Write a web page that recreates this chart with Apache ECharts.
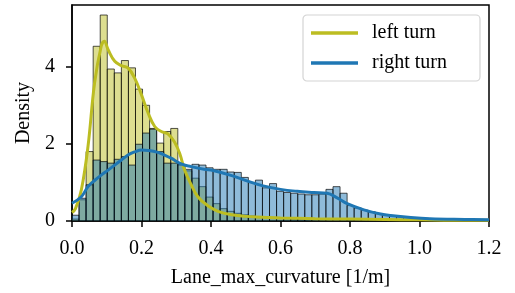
<!DOCTYPE html>
<html>
<head>
<meta charset="utf-8">
<script src="https://cdn.jsdelivr.net/npm/echarts@6/dist/echarts.min.js"></script>
<style>html,body{margin:0;padding:0;background:#fff;}#c{width:515px;height:293px;}</style>
</head>
<body>
<div id="c"></div>
<script>
// ---- data ----
const binStart = 0.0;
const binWidth = 0.0203;
const leftHist = [0.05, 0.55, 1.80, 4.53, 5.34, 3.94, 3.84, 4.16, 3.97, 3.42, 3.00, 2.40, 2.02, 2.32, 2.40, 1.45, 1.30, 1.11, 0.89, 0.62,
  0.45, 0.32, 0.25, 0.20, 0.16, 0.13, 0.11, 0.09, 0.08, 0.07, 0.06, 0.05, 0.05, 0.04, 0.04, 0.04, 0.03, 0.03, 0.03, 0.02,
  0.02, 0.02, 0.02, 0.01, 0.01, 0.01, 0.01];
const rightHist = [0.15, 0.59, 0.94, 1.58, 1.54, 1.50, 1.60, 1.67, 1.45, 1.99, 2.28, 2.38, 1.80, 1.50, 1.50, 1.47, 1.34, 1.47, 1.45, 1.38,
  1.34, 1.34, 1.27, 1.26, 1.13, 1.00, 1.06, 0.86, 0.97, 0.77, 0.74, 0.72, 0.70, 0.68, 0.68, 0.70, 0.82, 0.89, 0.72, 0.40,
  0.34, 0.28, 0.24, 0.19, 0.16, 0.13, 0.11, 0.09, 0.08, 0.07, 0.05, 0.04, 0.03, 0.03, 0.02, 0.02, 0.01, 0.01, 0.01];
const leftKdeX = [0, 0.01, 0.027, 0.046, 0.065, 0.084, 0.093, 0.104, 0.123, 0.142, 0.161, 0.18, 0.2, 0.219, 0.238, 0.257, 0.276, 0.295, 0.31, 0.324, 0.343, 0.362, 0.39, 0.42, 0.46, 0.5, 0.55, 0.6, 0.7, 0.8, 0.9, 1.0, 1.1, 1.2];
const leftKdeY = [0.22, 0.32, 0.81, 1.93, 3.58, 4.53, 4.66, 4.44, 4.14, 4.03, 3.97, 3.71, 3.27, 2.80, 2.45, 2.32, 2.26, 2.05, 1.75, 1.32, 0.94, 0.63, 0.40, 0.25, 0.16, 0.12, 0.10, 0.08, 0.06, 0.05, 0.04, 0.03, 0.02, 0.02];
const rightKdeX = [0, 0.027, 0.046, 0.065, 0.084, 0.104, 0.123, 0.142, 0.161, 0.18, 0.2, 0.22, 0.247, 0.266, 0.285, 0.314, 0.343, 0.38, 0.406, 0.455, 0.503, 0.55, 0.6, 0.648, 0.696, 0.734, 0.763, 0.792, 0.84, 0.888, 0.917, 0.975, 1.03, 1.13, 1.2];
const rightKdeY = [0.46, 0.63, 0.89, 1.05, 1.19, 1.32, 1.45, 1.58, 1.71, 1.79, 1.84, 1.83, 1.78, 1.71, 1.63, 1.48, 1.41, 1.34, 1.31, 1.19, 1.04, 0.91, 0.82, 0.77, 0.74, 0.72, 0.60, 0.45, 0.29, 0.18, 0.14, 0.09, 0.06, 0.04, 0.03];
const seriesNames = ['left turn', 'right turn'];
const yTicks = [0, 2, 4];

// ---- chart ----
const FONT = "'Liberation Serif', 'DejaVu Serif', serif";
const olive = '#bcbd22', blue = '#1f77b4';
function histData(arr) {
  return arr.map((v, i) => [binStart + i * binWidth, binStart + (i + 1) * binWidth, v]);
}
function histSeries(name, arr, fill) {
  return {
    type: 'custom', name: name, clip: true, z: 2,
    encode: { x: [0, 1], y: 2 },
    data: histData(arr),
    renderItem: function (params, api) {
      const p0 = api.coord([api.value(0), api.value(2)]);
      const p1 = api.coord([api.value(1), 0]);
      return {
        type: 'rect',
        shape: { x: p0[0], y: p0[1], width: p1[0] - p0[0], height: p1[1] - p0[1] },
        style: { fill: fill, stroke: 'rgba(0,0,0,0.85)', lineWidth: 0.8 }
      };
    }
  };
}
function zip(xs, ys) { return xs.map((x, i) => [x, ys[i]]); }

const chart = echarts.init(document.getElementById('c'), null, { renderer: 'canvas' });
chart.setOption({
  animation: false,
  grid: { left: 72, right: 26, top: 5, bottom: 72, show: true, borderColor: '#000', borderWidth: 1.5, backgroundColor: 'transparent' },
  xAxis: {
    type: 'value', min: 0, max: 1.2, interval: 0.2,
    name: 'Lane_max_curvature [1/m]', nameLocation: 'middle', nameGap: 47,
    nameTextStyle: { fontFamily: FONT, fontSize: 20, color: '#000' },
    axisLine: { show: true, lineStyle: { color: '#000', width: 1.5 } },
    axisTick: { show: true, inside: false, length: 6, lineStyle: { color: '#000', width: 1.5 } },
    axisLabel: { fontFamily: FONT, fontSize: 20, color: '#000', margin: 18, formatter: v => v.toFixed(1) },
    splitLine: { show: false }
  },
  yAxis: {
    type: 'value', min: 0, max: 5.6, interval: 2,
    name: 'Density', nameLocation: 'middle', nameGap: 38, nameRotate: 90,
    nameTextStyle: { fontFamily: FONT, fontSize: 20, color: '#000' },
    axisLine: { show: true, lineStyle: { color: '#000', width: 1.5 } },
    axisTick: { show: true, inside: false, length: 6, customValues: yTicks, lineStyle: { color: '#000', width: 1.5 } },
    axisLabel: { fontFamily: FONT, fontSize: 20, color: '#000', margin: 17, customValues: yTicks },
    splitLine: { show: false }
  },
  legend: {
    data: seriesNames,
    orient: 'vertical', left: 303, top: 15,
    padding: [8, 33, 8, 8], itemGap: 10,
    itemWidth: 47, itemHeight: 3.5, icon: 'rect',
    backgroundColor: 'rgba(255,255,255,0.85)',
    borderColor: '#d4d4d4', borderWidth: 1.2, borderRadius: 4,
    textStyle: { fontFamily: FONT, fontSize: 20, color: '#000', padding: [0, 0, 0, 9] }
  },
  series: [
    histSeries('left hist', leftHist, 'rgba(188,189,34,0.5)'),
    histSeries('right hist', rightHist, 'rgba(31,119,180,0.5)'),
    { type: 'line', name: seriesNames[0], data: zip(leftKdeX, leftKdeY), smooth: 0.4, symbol: 'none', z: 5,
      color: olive, lineStyle: { color: olive, width: 3 } },
    { type: 'line', name: seriesNames[1], data: zip(rightKdeX, rightKdeY), smooth: 0.4, symbol: 'none', z: 5,
      color: blue, lineStyle: { color: blue, width: 3 } }
  ]
});
</script>
</body>
</html>
